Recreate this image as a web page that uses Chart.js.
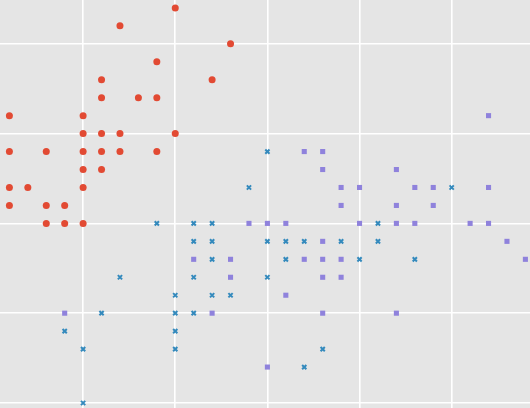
<!DOCTYPE html>
<html>
<head>
<meta charset="utf-8">
<script src="https://cdn.jsdelivr.net/npm/chart.js@4/dist/chart.umd.min.js"></script>
<style>
html,body{margin:0;padding:0;background:#e5e5e5;}
#wrap{width:530px;height:408px;position:relative;}
</style>
</head>
<body>
<div id="wrap"><canvas id="c"></canvas></div>
<script>
// Sepal length (x) vs sepal width (y)
const setosaX = [5.5,5.2,5.8,5.4,5.1,5.7,5.1,5.3,5.4,4.6,5.0,5.0,5.1,5.2,5.5,4.6,4.8,5.0,5.1,5.2,5.4,5.0,5.1,4.6,4.7,5.0,4.6,4.8,4.9,4.8,4.9,5.0];
const setosaY = [4.2,4.1,4.0,3.9,3.8,3.8,3.7,3.7,3.7,3.6,3.6,3.5,3.5,3.5,3.5,3.4,3.4,3.4,3.4,3.4,3.4,3.3,3.3,3.2,3.2,3.2,3.1,3.1,3.1,3.0,3.0,3.0];

const versicolorX = [6.0,5.9,7.0,5.4,5.6,5.7,6.6,5.6,5.7,6.0,6.1,6.2,6.4,6.6,5.7,6.1,6.5,6.8,5.2,5.6,6.0,5.5,5.7,5.8,5.1,5.5,5.6,4.9,5.5,5.0,5.5,6.3,6.2,5.0];
const versicolorY = [3.4,3.2,3.2,3.0,3.0,3.0,3.0,2.9,2.9,2.9,2.9,2.9,2.9,2.9,2.8,2.8,2.8,2.8,2.7,2.7,2.7,2.6,2.6,2.6,2.5,2.5,2.5,2.4,2.4,2.3,2.3,2.3,2.2,2.0];

const virginicaX = [7.2,6.2,6.3,6.3,6.7,6.4,6.5,6.8,6.9,7.2,6.4,6.7,6.9,5.9,6.0,6.1,6.5,6.7,6.8,7.1,7.2,6.3,7.3,5.6,5.8,6.2,6.3,6.4,7.4,5.8,6.3,6.4,6.1,4.9,5.7,6.3,6.7,6.0];
const virginicaY = [3.6,3.4,3.4,3.3,3.3,3.2,3.2,3.2,3.2,3.2,3.1,3.1,3.1,3.0,3.0,3.0,3.0,3.0,3.0,3.0,3.0,2.9,2.9,2.8,2.8,2.8,2.8,2.8,2.8,2.7,2.7,2.7,2.6,2.5,2.5,2.5,2.5,2.2];

const xTicks = [5.0,5.5,6.0,6.5,7.0];
const yTicks = [2.0,2.5,3.0,3.5,4.0];

function pts(xs, ys){ return xs.map((x,i)=>({x:x, y:ys[i]})); }

const bgPlugin = {
  id:'bg',
  beforeDraw(chart){
    const ctx = chart.ctx;
    ctx.save();
    ctx.fillStyle = '#e5e5e5';
    ctx.fillRect(0,0,chart.width,chart.height);
    ctx.restore();
  }
};

new Chart(document.getElementById('c'), {
  type:'scatter',
  data:{
    datasets:[
      {label:'setosa', data:pts(setosaX,setosaY), pointStyle:'circle', pointRadius:3.5,
       backgroundColor:'#E24A33', borderColor:'#E24A33', borderWidth:0},
      {label:'versicolor', data:pts(versicolorX,versicolorY), pointStyle:'crossRot', pointRadius:3,
       backgroundColor:'#348ABD', borderColor:'#348ABD', borderWidth:2},
      {label:'virginica', data:pts(virginicaX,virginicaY), pointStyle:'rect', pointRadius:3.6,
       backgroundColor:'#8f82dc', borderColor:'#8f82dc', borderWidth:0}
    ]
  },
  options:{
    responsive:true,
    maintainAspectRatio:false,
    animation:false,
    layout:{padding:0, autoPadding:false},
    plugins:{legend:{display:false}, tooltip:{enabled:false}},
    scales:{
      x:{type:'linear', min:4.549, max:7.425,
         afterBuildTicks:(s)=>{ s.ticks = xTicks.map(v=>({value:v})); },
         ticks:{display:false},
         grid:{color:'#ffffff', lineWidth:1.6, drawTicks:false},
         border:{display:false}},
      y:{type:'linear', min:1.972, max:4.244,
         afterBuildTicks:(s)=>{ s.ticks = yTicks.map(v=>({value:v})); },
         ticks:{display:false},
         grid:{color:'#ffffff', lineWidth:1.6, drawTicks:false},
         border:{display:false}}
    }
  },
  plugins:[bgPlugin]
});
</script>
</body>
</html>
